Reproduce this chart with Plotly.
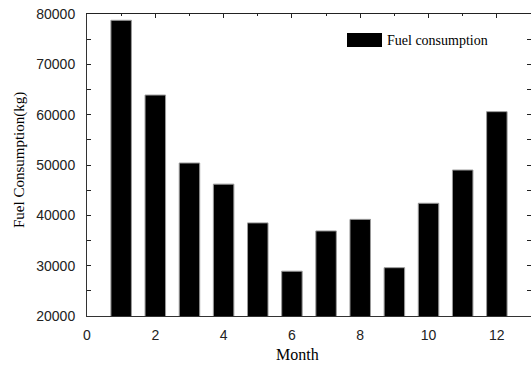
import plotly.graph_objects as go

months = [1, 2, 3, 4, 5, 6, 7, 8, 9, 10, 11, 12]
fuel = [78750, 63900, 50400, 46200, 38500, 28900, 36900, 39200, 29600, 42400, 49000, 60600]
series_name = "Fuel consumption"
x_title = "Month"
y_title = "Fuel Consumption(kg)"

W, H = 531, 367
ML, MR, MT, MB = 87, 0, 14, 51

fig = go.Figure()
fig.add_trace(go.Bar(
    x=months, y=fuel, width=0.6, name=series_name,
    marker=dict(color="black", line=dict(color="#9a9a9a", width=1)),
    showlegend=False,
))
# invisible trace for top axis
fig.add_trace(go.Scatter(x=[0], y=[20000], xaxis="x2", mode="markers",
                         marker=dict(opacity=0), showlegend=False, hoverinfo="skip"))

tickfont = dict(family="Liberation Sans, Arial", size=14, color="#222")
fig.update_layout(
    width=W, height=H,
    margin=dict(l=ML, r=MR, t=MT, b=MB),
    paper_bgcolor="white", plot_bgcolor="white",
    xaxis=dict(range=[0, 13], dtick=2, tick0=0, showgrid=False, zeroline=False,
               showline=True, linecolor="#333", linewidth=1, ticks="",
               tickfont=tickfont, ticklabelstandoff=6),
    xaxis2=dict(range=[0, 13], overlaying="x", side="top", anchor="y",
                showgrid=False, zeroline=False, showline=True, linecolor="#222", linewidth=1,
                ticks="inside", dtick=2, tick0=0, ticklen=4, tickcolor="#222",
                minor=dict(dtick=1, tick0=0, ticks="inside", ticklen=2, tickcolor="#222"),
                showticklabels=False),
    yaxis=dict(range=[20000, 80000], dtick=10000, tick0=20000, tickformat="d",
               showgrid=False, zeroline=False, showline=True, linecolor="#333", linewidth=1,
               mirror="allticks", ticks="inside", ticklen=4, tickcolor="#222",
               minor=dict(dtick=5000, ticks="inside", ticklen=2, tickcolor="#222"),
               tickfont=tickfont, ticklabelstandoff=8),
    showlegend=False,
)

serif = "Liberation Serif, Times New Roman"
pw = W - ML - MR
ph = H - MT - MB
def px(x):
    return (x - ML) / pw
def py(y):
    return (H - MB - y) / ph

fig.add_annotation(text=x_title, xref="paper", yref="paper", x=px(297), y=py(354),
                   xanchor="center", yanchor="middle",
                   showarrow=False, font=dict(family=serif, size=16, color="black"))
fig.add_annotation(text=y_title, xref="paper", yref="paper", x=px(19), y=py(160),
                   xanchor="center", yanchor="middle",
                   textangle=-90, showarrow=False, font=dict(family=serif, size=15, color="black"))

# legend
fig.add_shape(type="rect", xref="paper", yref="paper",
              x0=px(347), x1=px(382), y0=py(47), y1=py(33),
              fillcolor="black", line=dict(width=0))
fig.add_annotation(text=series_name, xref="paper", yref="paper", x=px(385), y=py(40),
                   xanchor="left", yanchor="middle", showarrow=False,
                   font=dict(family=serif, size=14, color="black"))

fig.write_html("out.html")
